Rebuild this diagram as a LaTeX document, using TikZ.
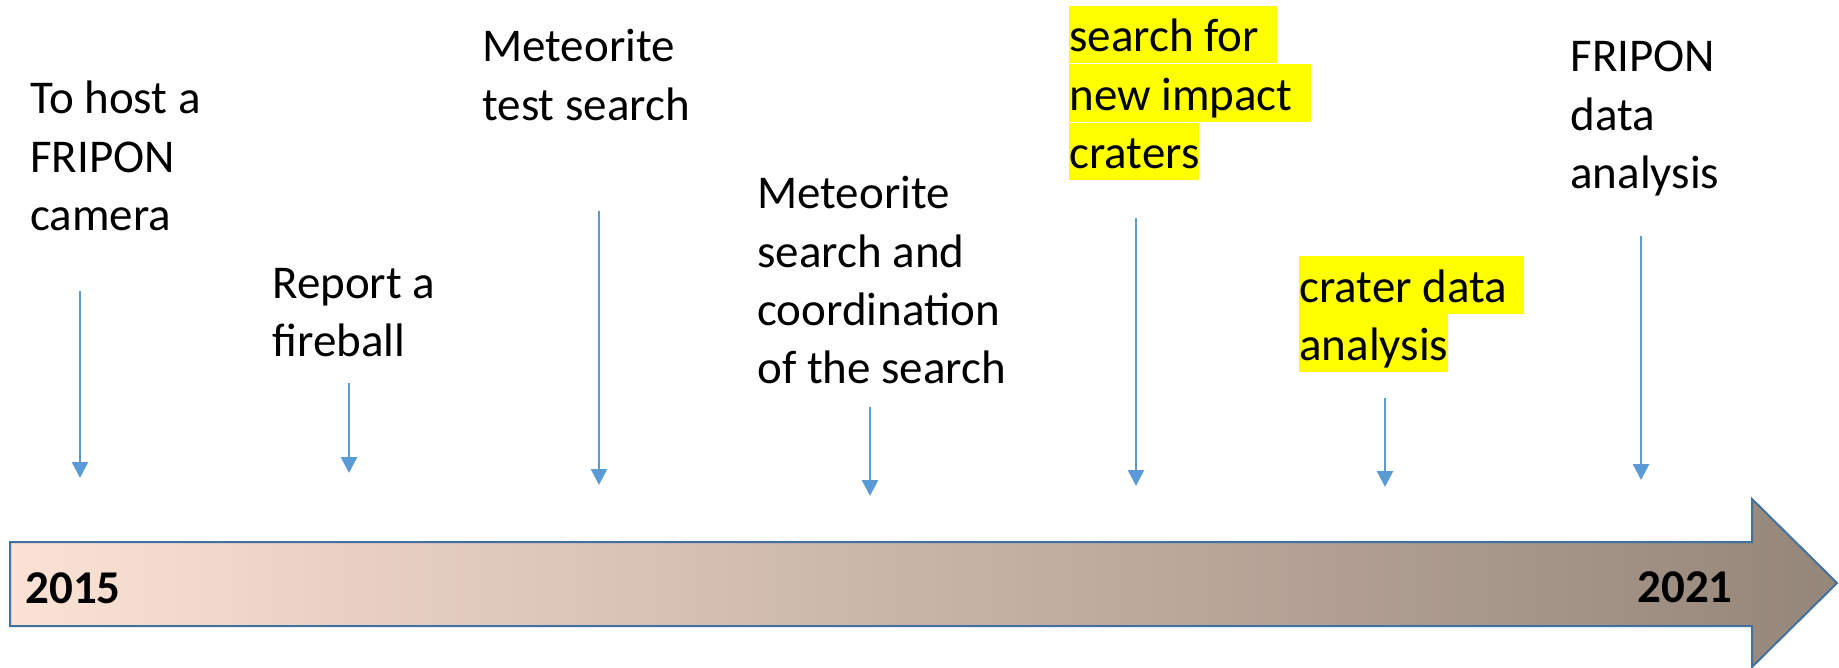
\documentclass[tikz,border=0pt]{standalone}
\usepackage{fontspec}
\setmainfont{Carlito}
\usepackage{tikz}
\usetikzlibrary{arrows.meta,positioning}

\definecolor{tickblue}{HTML}{5B9BD5}
\definecolor{rimblue}{HTML}{41719C}
\definecolor{peach}{RGB}{251,226,213}
\definecolor{taupe}{RGB}{148,134,121}
\definecolor{marker}{HTML}{FFFF00}

\begin{document}
\begin{tikzpicture}[x=0.5pt, y=-0.5pt,
  lbl/.style={font=\fontsize{23.5}{28.75}\selectfont, inner sep=0pt,
              text height=23pt, text depth=5.75pt},
  hl/.style={lbl, fill=marker},
  year/.style={font=\fontsize{23.5}{28.75}\selectfont\bfseries, inner sep=0pt},
  tick/.style={tickblue, line width=1.3pt, -{Triangle[width=8pt,length=8pt]}},
]
\useasboundingbox (0,0) rectangle (1839,668);

%% ---- timeline arrow
\draw[rimblue, line width=1pt, left color=peach, right color=taupe]
  (10,542) -- (1752,542) -- (1752,499) -- (1837,583) -- (1752,667)
  -- (1752,626) -- (10,626) -- cycle;
\node[year, anchor=base west] (ystart) at (25,603) {2015};
\node[year, anchor=base east] (yend)   at (1733,602) {2021};

%% ---- labels (one node per line)
\node[lbl, anchor=base west] (host1) at (30,114) {To host a};
\node[lbl, anchor=north west] (host2) at (host1.south west) {FRIPON};
\node[lbl, anchor=north west] (host3) at (host2.south west) {camera};

\node[lbl, anchor=base west] (fire1) at (272,298) {Report a};
\node[lbl, anchor=north west] (fire2) at (fire1.south west) {fireball};

\node[lbl, anchor=base west] (test1) at (482,62) {Meteorite};
\node[lbl, anchor=north west] (test2) at (test1.south west) {test search};

\node[lbl, anchor=base west] (coord1) at (757,209) {Meteorite};
\node[lbl, anchor=north west] (coord2) at (coord1.south west) {search and};
\node[lbl, anchor=north west] (coord3) at (coord2.south west) {coordination};
\node[lbl, anchor=north west] (coord4) at (coord3.south west) {of the search};

% highlighted ones (trailing blank is highlighted too)
\node[hl, anchor=base west] (crat1) at (1069,52) {search for\kern9pt};
\node[hl, anchor=north west] (crat2) at (crat1.south west) {new impact\kern9pt};
\node[hl, anchor=north west] (crat3) at (crat2.south west) {craters};

\node[hl, anchor=base west] (cdat1) at (1299,302) {crater data\kern8.5pt};
\node[hl, anchor=north west] (cdat2) at (cdat1.south west) {analysis};

\node[lbl, anchor=base west] (fdat1) at (1570,72) {FRIPON};
\node[lbl, anchor=north west] (fdat2) at (fdat1.south west) {data};
\node[lbl, anchor=north west] (fdat3) at (fdat2.south west) {analysis};

%% ---- ticks down to the timeline
\coordinate (hostA) at (80,291);   \coordinate (hostB) at (80,478);
\coordinate (fireA) at (349,383);  \coordinate (fireB) at (349,473);
\coordinate (testA) at (599,211);  \coordinate (testB) at (599,485);
\coordinate (coordA) at (870,407); \coordinate (coordB) at (870,496);
\coordinate (cratA) at (1136,218); \coordinate (cratB) at (1136,486);
\coordinate (cdatA) at (1385,398); \coordinate (cdatB) at (1385,487);
\coordinate (fdatA) at (1641,236); \coordinate (fdatB) at (1641,480);

\draw[tick] (hostA) -- (hostB);
\draw[tick] (fireA) -- (fireB);
\draw[tick] (testA) -- (testB);
\draw[tick] (coordA) -- (coordB);
\draw[tick] (cratA) -- (cratB);
\draw[tick] (cdatA) -- (cdatB);
\draw[tick] (fdatA) -- (fdatB);

\end{tikzpicture}
\end{document}
